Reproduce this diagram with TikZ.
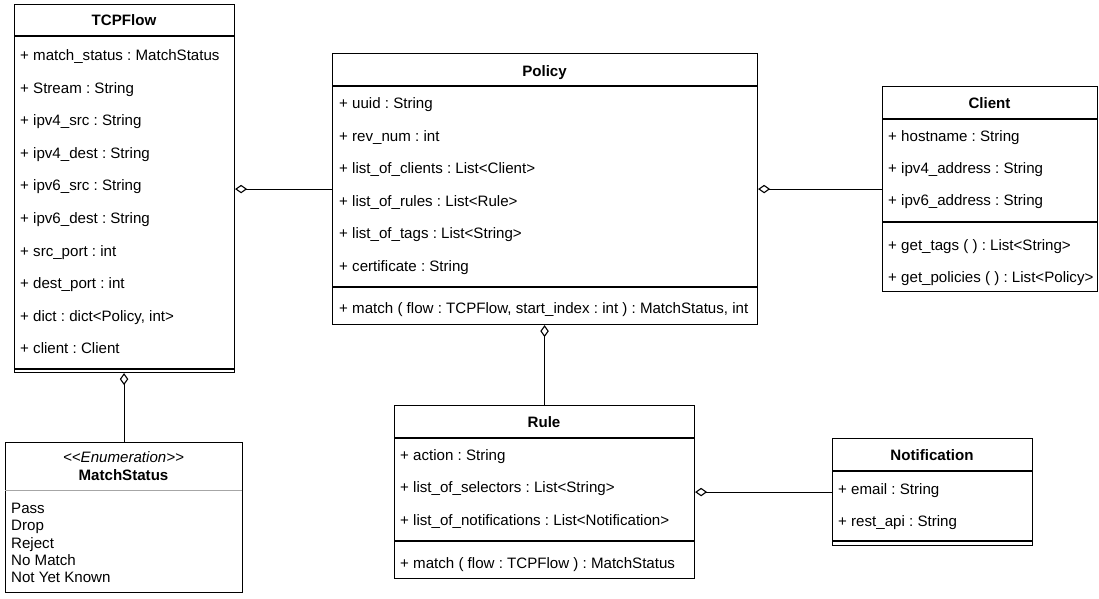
\documentclass[tikz,border=0pt]{standalone}
\usepackage{fontspec}
\setmainfont{Liberation Sans}[Ligatures=TeXOff]
\usetikzlibrary{arrows.meta}
\frenchspacing

\tikzset{
  classbox/.style={draw, line width=1.1pt, fill=white, rectangle, inner sep=0pt, anchor=north west},
  sep/.style={line width=1.1pt},
  attr/.style={anchor=west, inner sep=0pt, font=\fontsize{15.1}{17}\selectfont, text height=10.8pt, text depth=0pt},
  ctitle/.style={inner sep=0pt, font=\fontsize{15.1}{17}\selectfont\bfseries, text height=10.8pt, text depth=0pt},
  aggr/.style={line width=1.1pt, -{Diamond[open, length=12pt, width=8.5pt, line width=1.1pt]}},
}

\begin{document}
\begin{tikzpicture}[x=1pt, y=-1pt]
\useasboundingbox (0,0) rectangle (1099,598);

% ---- TCPFlow
\node[classbox, minimum width=220pt, minimum height=368pt] (tcp) at (14,4) {};
\node[ctitle] (tcpT) at (124,20) {TCPFlow};
\draw[sep] (14,36) -- (234,36);
\draw[sep] (14,369) -- (234,369);
\foreach \t [count=\i from 0] in {%
  {+ match\_status : MatchStatus},
  {+ Stream : String},
  {+ ipv4\_src : String},
  {+ ipv4\_dest : String},
  {+ ipv6\_src : String},
  {+ ipv6\_dest : String},
  {+ src\_port : int},
  {+ dest\_port : int},
  {+ dict : dict<Policy, int>},
  {+ client : Client}}
  \node[attr] (tcpA\i) at (20,{55+32.6*\i}) {\t};

% ---- MatchStatus
\node[classbox, minimum width=237pt, minimum height=150pt] (ms) at (5,442) {};
\node[inner sep=0pt, font=\fontsize{15.1}{17}\selectfont\itshape, text height=10.8pt, text depth=0pt] (msS) at (123.5,457) {<<Enumeration>>};
\node[ctitle] (msT) at (123.5,475) {MatchStatus};
\draw[line width=1pt, gray!70] (5,490) -- (242,490);
\foreach \t [count=\i from 0] in {Pass, Drop, Reject, No Match, Not Yet Known}
  \node[attr] (msA\i) at (11,{508+17.3*\i}) {\t};

% ---- Policy
\node[classbox, minimum width=425pt, minimum height=271pt] (pol) at (332,53) {};
\node[ctitle] (polT) at (544.5,71) {Policy};
\draw[sep] (332,86) -- (757,86);
\draw[sep] (332,287) -- (757,287);
\foreach \t [count=\i from 0] in {%
  {+ uuid : String},
  {+ rev\_num : int},
  {+ list\_of\_clients : List<Client>},
  {+ list\_of\_rules : List<Rule>},
  {+ list\_of\_tags : List<String>},
  {+ certificate : String}}
  \node[attr] (polA\i) at (339,{103+32.6*\i}) {\t};
\node[attr] (polM) at (339,308) {+ match ( flow : TCPFlow, start\_index : int ) : MatchStatus, int};

% ---- Client
\node[classbox, minimum width=215pt, minimum height=205pt] (cli) at (882,86) {};
\node[ctitle] (cliT) at (989.5,103) {Client};
\draw[sep] (882,119) -- (1097,119);
\draw[sep] (882,222) -- (1097,222);
\foreach \t [count=\i from 0] in {%
  {+ hostname : String},
  {+ ipv4\_address : String},
  {+ ipv6\_address : String}}
  \node[attr] (cliA\i) at (888,{136+32.2*\i}) {\t};
\node[attr] (cliM0) at (888,245) {+ get\_tags ( ) : List<String>};
\node[attr] (cliM1) at (888,277) {+ get\_policies ( ) : List<Policy>};

% ---- Rule
\node[classbox, minimum width=300pt, minimum height=173pt] (rule) at (394,405) {};
\node[ctitle] (ruleT) at (544,422) {Rule};
\draw[sep] (394,438) -- (694,438);
\draw[sep] (394,541) -- (694,541);
\foreach \t [count=\i from 0] in {%
  {+ action : String},
  {+ list\_of\_selectors : List<String>},
  {+ list\_of\_notifications : List<Notification>}}
  \node[attr] (ruleA\i) at (400,{455+32.5*\i}) {\t};
\node[attr] (ruleM) at (400,563) {+ match ( flow : TCPFlow ) : MatchStatus};

% ---- Notification
\node[classbox, minimum width=200pt, minimum height=107pt] (note) at (832,438) {};
\node[ctitle] (noteT) at (932,455) {Notification};
\draw[sep] (832,471) -- (1032,471);
\draw[sep] (832,541) -- (1032,541);
\node[attr] (noteA0) at (838,489) {+ email : String};
\node[attr] (noteA1) at (838,521) {+ rest\_api : String};

% ---- aggregations
\draw[aggr] (pol.west) -- (pol.west -| tcp.east);
\draw[aggr] (cli.west) -- (cli.west -| pol.east);
\draw[aggr] (rule.north) -- (rule.north |- pol.south);
\draw[aggr] (ms.north) -- (ms.north |- tcp.south);
\draw[aggr] (note.west) -- (note.west -| rule.east);
\end{tikzpicture}
\end{document}
